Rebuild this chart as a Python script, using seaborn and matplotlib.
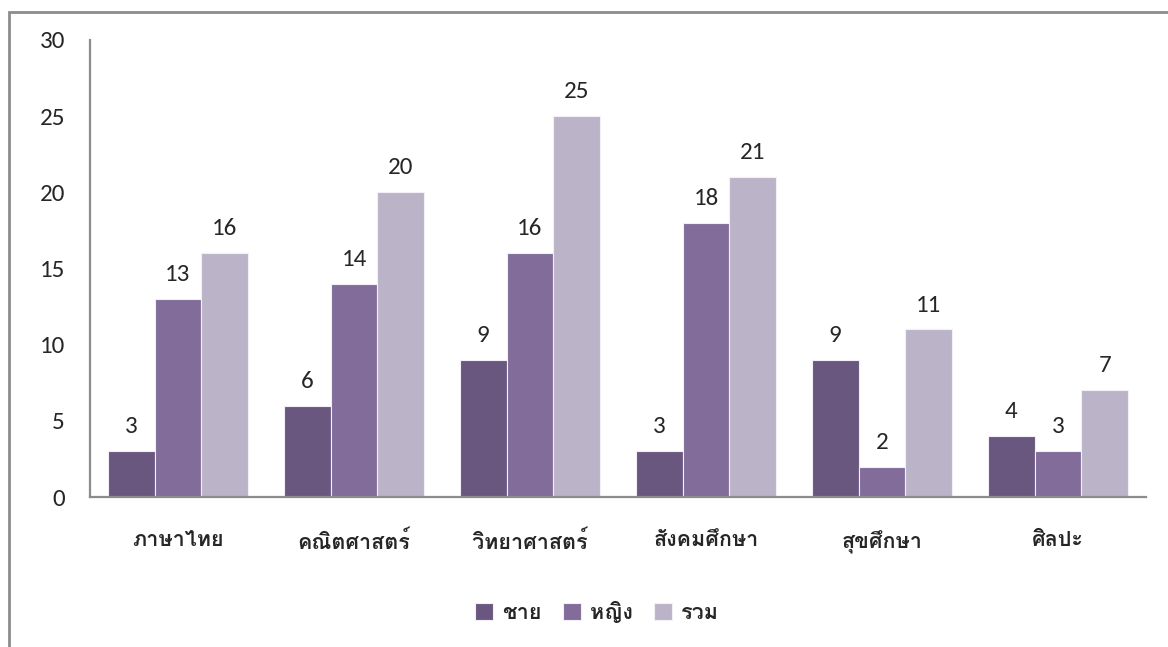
import numpy as np
import pandas as pd
import seaborn as sns
import matplotlib.pyplot as plt
from matplotlib.patches import Rectangle

subjects = ["ภาษาไทย", "คณิตศาสตร์", "วิทยาศาสตร์", "สังคมศึกษา", "สุขศึกษา", "ศิลปะ"]
series = ["ชาย", "หญิง", "รวม"]
male = [3, 6, 9, 3, 9, 4]
female = [13, 14, 16, 18, 2, 3]
total = [16, 20, 25, 21, 11, 7]
colors = ["#6A5087", "#8064A2", "#BAB0CA"]

sns.set_style("white")
num_font = ["Carlito", "Lato", "DejaVu Sans"]
thai_family = ["Loma", "DejaVu Sans"]
plt.rcParams['font.family'] = thai_family

df = pd.DataFrame({
    "subject": subjects * 3,
    "group": [s for s in series for _ in subjects],
    "value": male + female + total,
})

fig = plt.figure(figsize=(11.68, 6.47), dpi=100)
ax = fig.add_axes([90 / 1168, 1 - 497 / 647, (1146 - 90) / 1168, (497 - 40) / 647])

sns.barplot(data=df, x="subject", y="value", hue="group", palette=colors,
            width=0.8, ax=ax, edgecolor="#f2eff6", linewidth=0.8, legend=True)

ax.set_ylim(0, 30)
ax.set_yticks(range(0, 31, 5))
ax.set_xlabel("")
ax.set_ylabel("")
for lab in ax.get_yticklabels():
    lab.set_family(num_font)
    lab.set_fontsize(18)
for lab in ax.get_xticklabels():
    lab.set_fontsize(15.5)
    lab.set_fontweight("bold")
ax.tick_params(axis="y", length=0, pad=18)
ax.tick_params(axis="x", length=0, pad=24)

for side in ["top", "right"]:
    ax.spines[side].set_visible(False)
for side in ["left", "bottom"]:
    ax.spines[side].set_color("#8c8c8c")
    ax.spines[side].set_linewidth(1.6)

for cont in ax.containers:
    ax.bar_label(cont, padding=10, fontsize=18, family=num_font)

handles, labels = ax.get_legend_handles_labels()
ax.get_legend().remove()
fig.legend(handles, labels, loc="center", bbox_to_anchor=(597 / 1168, 1 - 612 / 647),
           ncol=3, frameon=False, prop={"weight": "bold", "size": 15.5},
           handlelength=0.85, handleheight=0.85, columnspacing=1.0, handletextpad=0.4)

fig.patches.append(Rectangle((8.5 / 1168, -0.1), 1.2, 1.1 - 11.5 / 647,
                             transform=fig.transFigure, fill=False,
                             edgecolor="#8c8c8c", linewidth=2))

fig.savefig("out.png", dpi=100)
